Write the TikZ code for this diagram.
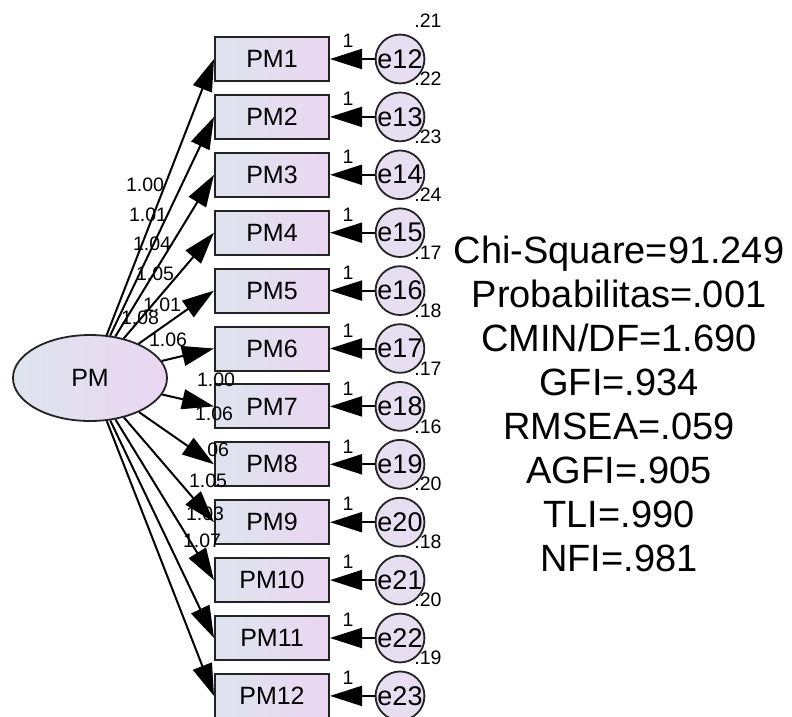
\documentclass[tikz,border=0pt]{standalone}
\usepackage{fontspec}
\setmainfont{Liberation Sans}
\usetikzlibrary{arrows.meta,shapes.geometric}
\definecolor{boxL}{RGB}{222,228,238}
\definecolor{boxR}{RGB}{234,214,242}
\definecolor{circ}{RGB}{232,222,242}
\definecolor{edgec}{RGB}{35,35,35}
\begin{document}
\begin{tikzpicture}[x=1pt,y=-1pt,
  obs/.style={draw=edgec, line width=2pt, minimum width=114pt, minimum height=44pt, inner sep=0pt,
    left color=boxL, right color=boxR, font=\fontsize{25}{28}\selectfont},
  lat/.style={ellipse, draw=edgec, line width=1.8pt, minimum width=154pt, minimum height=86pt, inner sep=0pt,
    left color=boxL, right color=boxR, font=\fontsize{25}{28}\selectfont},
  err/.style={circle, draw=edgec, line width=1.8pt, minimum size=40pt, inner sep=0pt,
    fill=circ, font=\fontsize{27}{30}\selectfont},
  arr/.style={draw=black, line width=2pt, -{Triangle[length=32pt,width=20pt]}},
  sm/.style={inner sep=0pt, font=\fontsize{19.5}{22}\selectfont},
  fitline/.style={inner sep=0pt, anchor=base, font=\fontsize{38}{42}\selectfont}]
\useasboundingbox (0,0) rectangle (792,717);

\node[lat] (PM) at (90,378) {PM};

\foreach \i in {1,...,12}{
  \pgfmathsetmacro\yy{59+57.9*(\i-1)}
  \pgfmathtruncatemacro\ee{\i+11}
  \node[obs] (PM\i) at (272,\yy) {PM\i};
  \node[err] (e\ee) at (400,\yy) {e\ee};
  \draw[arr] (e\ee) -- (PM\i);
  \node[sm] (one\i) at (348,\yy-18) {1};
  \draw[arr] (PM) -- (PM\i.west);
}

\foreach \v [count=\i] in {.21,.22,.23,.24,.17,.18,.17,.16,.20,.18,.20,.19}{
  \pgfmathsetmacro\yy{59+57.9*(\i-1)-38}
  \node[sm] (var\i) at (428,\yy) {\v};
}

\node[sm] (L1) at (145,185) {1.00};
\node[sm] (L2) at (148,215) {1.01};
\node[sm] (L3) at (152,244) {1.04};
\node[sm] (L4) at (155,274) {1.05};
\node[sm] (L6) at (140,318) {1.08};
\node[sm] (L5) at (162,305) {1.01};
\node[sm] (L7) at (168,340) {1.06};
\node[sm] (L8) at (216,380) {1.00};
\node[sm] (L9) at (214,414) {1.06};
\node[sm] (L10) at (210,450) {1.06};
\node[sm] (L11) at (208,481) {1.05};
\node[sm] (L12) at (205,514) {1.03};
\node[sm] (L13) at (202,541) {1.07};

\node[fitline] (f1) at (619,263) {Chi-Square=91.249};
\node[fitline] (f2) at (619,307) {Probabilitas=.001};
\node[fitline] (f3) at (619,351) {CMIN/DF=1.690};
\node[fitline] (f4) at (619,395) {GFI=.934};
\node[fitline] (f5) at (619,439) {RMSEA=.059};
\node[fitline] (f6) at (619,483) {AGFI=.905};
\node[fitline] (f7) at (619,527) {TLI=.990};
\node[fitline] (f8) at (619,571) {NFI=.981};
\end{tikzpicture}
\end{document}
